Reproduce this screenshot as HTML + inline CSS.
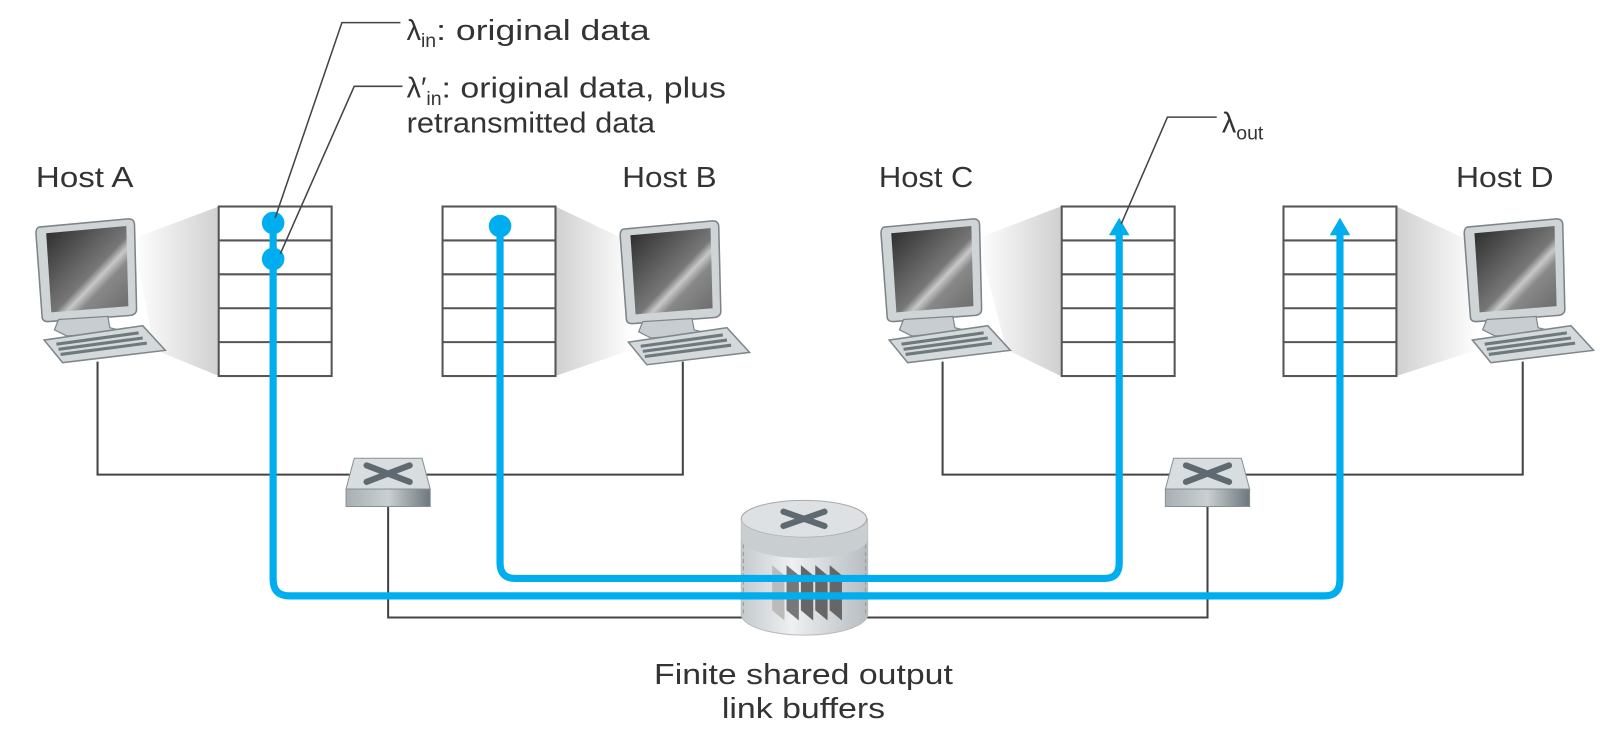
<!DOCTYPE html>
<html><head><meta charset="utf-8"><style>
html,body{margin:0;padding:0;background:#fff;}
svg{display:block;}
text{font-family:"Liberation Sans","DejaVu Sans",sans-serif;fill:#333;}
</style></head><body>
<svg width="1610" height="750" viewBox="0 0 1568 730" preserveAspectRatio="none" xmlns="http://www.w3.org/2000/svg">
<defs>
<linearGradient id="scr" x1="0" y1="0" x2="1" y2="1">
<stop offset="0" stop-color="#2a2a2a"/><stop offset="0.55" stop-color="#777"/><stop offset="0.62" stop-color="#c8c8c8"/><stop offset="0.7" stop-color="#888"/><stop offset="1" stop-color="#6a6a6a"/>
</linearGradient>
<linearGradient id="fanL" x1="0" y1="0" x2="1" y2="0">
<stop offset="0" stop-color="#fff"/><stop offset="1" stop-color="#d0d0d0"/>
</linearGradient>
<linearGradient id="fanR" x1="1" y1="0" x2="0" y2="0">
<stop offset="0" stop-color="#fff"/><stop offset="1" stop-color="#d0d0d0"/>
</linearGradient>
<linearGradient id="front" x1="0" y1="0" x2="1" y2="0">
<stop offset="0" stop-color="#a8b0b5"/><stop offset="0.5" stop-color="#c9cfd2"/><stop offset="1" stop-color="#6d777c"/>
</linearGradient>
<linearGradient id="cyl" x1="0" y1="0" x2="1" y2="0">
<stop offset="0" stop-color="#c4cacd"/><stop offset="0.4" stop-color="#eef0f1"/><stop offset="1" stop-color="#b6bdc1"/>
</linearGradient>
<g id="pc">
<path d="M3,8 L90,0 Q96,0 96,6 L98,88 Q98,93 92,94 L12,100 Q6,100 6,95 L0,14 Q0,9 3,8 Z" fill="#cfd4d7" stroke="#7d8387" stroke-width="1.5"/>
<path d="M10,14 L88,7 L90,85 L15,91 Z" fill="url(#scr)"/>
<path d="M22,98 L70,95 L72,106 L88,110 L30,114 L18,108 Z" fill="#c7cdd0" stroke="#80878b" stroke-width="1.2"/>
<path d="M8,118 L104,104 L126,128 L26,140 Z" fill="#d4d9db" stroke="#80878b" stroke-width="1.5"/>
<path d="M20,122 L100,111 M22,127 L104,116 M24,132 L108,121" stroke="#6f787d" stroke-width="3"/>
</g>
<g id="sw">
<path d="M8,0 L74,0 L82,30 L0,30 Z" fill="#d8dde0" stroke="#8a9195" stroke-width="1"/>
<rect x="0" y="30" width="82" height="17" fill="url(#front)" stroke="#8a9195" stroke-width="1"/>
<path d="M20,7 L62,23 M62,7 L20,23" stroke="#5f6a70" stroke-width="6" stroke-linecap="round"/>
</g>
<g id="buf">
<rect x="0" y="0" width="110" height="165" fill="#fff" stroke="#555" stroke-width="2"/>
<path d="M0,33 H110 M0,66 H110 M0,99 H110 M0,132 H110" stroke="#555" stroke-width="2"/>
</g>
</defs>

<polygon points="130,232 213,201 213,366 150,340" fill="url(#fanL)"/>
<polygon points="606,232 541,201 541,366 616,340" fill="url(#fanR)"/>
<polygon points="952,232 1033,201 1033,366 980,340" fill="url(#fanL)"/>
<polygon points="1426,232 1360,201 1360,366 1440,340" fill="url(#fanR)"/>

<g fill="none" stroke="#444" stroke-width="2">
<path d="M95,352 V462 H665 V352"/>
<path d="M918,352 V462 H1483 V352"/>
<path d="M378,492 V601 H1176 V492"/>
</g>

<use href="#buf" x="213" y="201"/>
<use href="#buf" x="431" y="201"/>
<use href="#buf" x="1034" y="201"/>
<use href="#buf" x="1250" y="201"/>

<use href="#pc" x="35" y="213"/>
<use href="#pc" x="604" y="215"/>
<use href="#pc" x="858" y="213"/>
<use href="#pc" x="1426" y="213"/>

<use href="#sw" x="337" y="446"/>
<use href="#sw" x="1135" y="446"/>

<path d="M722,505 V598 A61,20 0 0 0 845,598 V505 Z" fill="url(#cyl)" stroke="#bbb"/>
<ellipse cx="783" cy="505" rx="61" ry="18" fill="#dde1e3" stroke="#aaa"/>
<path d="M722,505 A61,18 0 0 0 845,505 V525 A61,18 0 0 1 722,525 Z" fill="#c9ced1"/>
<path d="M763,498 L803,512 M803,498 L763,512" stroke="#5f6a70" stroke-width="6" stroke-linecap="round"/>
<path d="M724,530 V600 M843,530 V600" stroke="#999" stroke-dasharray="4,3"/>
<g>
<polygon points="752,550 764,560 764,604 752,594" fill="#bbb"/>
<polygon points="766,550 778,560 778,604 766,594" fill="#777"/>
<polygon points="780,550 792,560 792,604 780,594" fill="#666"/>
<polygon points="794,550 806,560 806,604 794,594" fill="#666"/>
<polygon points="808,550 820,560 820,604 808,594" fill="#666"/>
</g>

<g fill="none" stroke="#00aeef" stroke-width="7">
<path d="M266,218 V564 Q266,580 282,580 H1290 Q1305,580 1305,564 V226"/>
<path d="M487,220 V548 Q487,563 502,563 H1076 Q1090,563 1090,548 V226"/>
</g>
<polygon points="1090,212 1080,229 1100,229" fill="#00aeef"/>
<polygon points="1305,212 1295,229 1315,229" fill="#00aeef"/>
<circle cx="266" cy="217" r="11" fill="#00aeef"/>
<circle cx="266" cy="252" r="11" fill="#00aeef"/>
<circle cx="487" cy="220" r="11" fill="#00aeef"/>

<g fill="none" stroke="#444" stroke-width="1.5">
<path d="M268,212 L333,22 H390"/>
<path d="M273,247 L345,84 H392"/>
<path d="M1092,218 L1137,114 H1185"/>
</g>

<g font-size="28">
<text x="35" y="182" textLength="95" lengthAdjust="spacingAndGlyphs">Host A</text>
<text x="606" y="182" textLength="92" lengthAdjust="spacingAndGlyphs">Host B</text>
<text x="856" y="182" textLength="92" lengthAdjust="spacingAndGlyphs">Host C</text>
<text x="1418" y="182" textLength="95" lengthAdjust="spacingAndGlyphs">Host D</text>
<text x="396" y="39">λ<tspan font-size="19" dy="7">in</tspan><tspan dy="-7" textLength="208" lengthAdjust="spacingAndGlyphs">: original data</tspan></text>
<text x="396" y="95">λ′<tspan font-size="19" dy="7">in</tspan><tspan dy="-7" textLength="277" lengthAdjust="spacingAndGlyphs">: original data, plus</tspan></text>
<text x="396" y="129" textLength="242" lengthAdjust="spacingAndGlyphs">retransmitted data</text>
<text x="1190" y="129">λ<tspan font-size="19" dy="7">out</tspan></text>
<text x="637" y="666" textLength="291" lengthAdjust="spacingAndGlyphs">Finite shared output</text>
<text x="703" y="699" textLength="159" lengthAdjust="spacingAndGlyphs">link buffers</text>
</g>
</svg>
</body></html>
